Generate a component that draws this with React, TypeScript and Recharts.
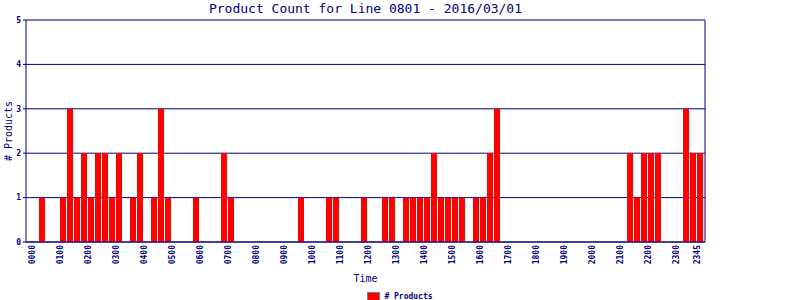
import { BarChart, Bar, XAxis, YAxis, CartesianGrid, Legend, Label } from "recharts";

const NAVY = "#000080";
const MONO = "'DejaVu Sans Mono', monospace";

/* quarter-hour slots */
const times = [
  "0000", "0015", "0030", "0045", "0100", "0115", "0130", "0145",
  "0200", "0215", "0230", "0245", "0300", "0315", "0330", "0345",
  "0400", "0415", "0430", "0445", "0500", "0515", "0530", "0545",
  "0600", "0615", "0630", "0645", "0700", "0715", "0730", "0745",
  "0800", "0815", "0830", "0845", "0900", "0915", "0930", "0945",
  "1000", "1015", "1030", "1045", "1100", "1115", "1130", "1145",
  "1200", "1215", "1230", "1245", "1300", "1315", "1330", "1345",
  "1400", "1415", "1430", "1445", "1500", "1515", "1530", "1545",
  "1600", "1615", "1630", "1645", "1700", "1715", "1730", "1745",
  "1800", "1815", "1830", "1845", "1900", "1915", "1930", "1945",
  "2000", "2015", "2030", "2045", "2100", "2115", "2130", "2145",
  "2200", "2215", "2230", "2245", "2300", "2315", "2330", "2345",
];

/* # products per slot */
const products = [
  0, 1, 0, 0, 1, 3, 1, 2,
  1, 2, 2, 1, 2, 0, 1, 2,
  0, 1, 3, 1, 0, 0, 0, 1,
  0, 0, 0, 2, 1, 0, 0, 0,
  0, 0, 0, 0, 0, 0, 1, 0,
  0, 0, 1, 1, 0, 0, 0, 1,
  0, 0, 1, 1, 0, 1, 1, 1,
  1, 2, 1, 1, 1, 1, 0, 1,
  1, 2, 3, 0, 0, 0, 0, 0,
  0, 0, 0, 0, 0, 0, 0, 0,
  0, 0, 0, 0, 0, 2, 1, 2,
  2, 2, 0, 0, 0, 3, 2, 2,
];

/* x tick labels */
const hourTicks = [
  "0000", "0100", "0200", "0300", "0400", "0500", "0600", "0700",
  "0800", "0900", "1000", "1100", "1200", "1300", "1400", "1500",
  "1600", "1700", "1800", "1900", "2000", "2100", "2200", "2300", "2345",
];

const yTicks = [0, 1, 2, 3, 4, 5];

const data = times.map((time, i) => ({ time, products: products[i] }));

const TimeTick = (props: any) => {
  const { x, y, payload } = props;
  return (
    <text
      transform={`translate(${x - 2},${y}) rotate(-90)`}
      textAnchor="end"
      dominantBaseline="central"
      fill={NAVY}
      fontSize={8}
      fontWeight="bold"
      fontFamily={MONO}
    >
      {payload.value}
    </text>
  );
};

const LegendContent = () => (
  <div
    style={{
      display: "flex",
      justifyContent: "center",
      alignItems: "center",
      height: 14,
      paddingTop: 3,
      fontFamily: MONO,
      fontSize: 8,
      fontWeight: "bold",
      color: NAVY,
    }}
  >
    <span
      style={{
        display: "inline-block",
        width: 11,
        height: 7,
        background: "#ff0000",
        border: "1px solid #808080",
        marginRight: 4,
      }}
    />
    # Products
  </div>
);

const App = () => {
  return (
    <div style={{ position: "absolute", left: 0, top: 0, width: 800, height: 300, background: "#fff" }}>
      <div
        style={{
          position: "absolute",
          left: 0,
          top: 0,
          width: 731,
          textAlign: "center",
          fontFamily: MONO,
          fontSize: 13,
          lineHeight: "17px",
          color: NAVY,
        }}
      >
        Product Count for Line 0801 - 2016/03/01
      </div>
      <BarChart
        width={800}
        height={300}
        data={data}
        margin={{ top: 20, right: 95, bottom: 0, left: 0 }}
        barSize={6}
      >
        <CartesianGrid
          stroke={NAVY}
          verticalCoordinatesGenerator={({ offset }: any) => [offset.left + offset.width]}
        />
        <XAxis
          dataKey="time"
          ticks={hourTicks}
          interval={0}
          height={44}
          tick={<TimeTick />}
          tickLine={false}
          tickSize={0}
          tickMargin={3}
          axisLine={{ stroke: NAVY }}
          padding={{ left: 5, right: 2 }}
        >
          <Label
            value="Time"
            position="insideBottom"
            offset={4}
            fill={NAVY}
            fontSize={10}
            fontFamily={MONO}
          />
        </XAxis>
        <YAxis
          width={26}
          domain={[0, 5]}
          ticks={yTicks}
          interval={0}
          tickSize={3}
          tickMargin={2}
          tickLine={{ stroke: NAVY }}
          axisLine={{ stroke: NAVY }}
          tick={{ fill: NAVY, fontSize: 8, fontWeight: "bold", fontFamily: MONO }}
        >
          <Label
            content={({ viewBox }: any) => (
              <text
                transform={`translate(8,${viewBox.y + viewBox.height / 2}) rotate(-90)`}
                textAnchor="middle"
                dominantBaseline="central"
                fill={NAVY}
                fontSize={10}
                fontFamily={MONO}
              >
                # Products
              </text>
            )}
          />
        </YAxis>
        <Legend verticalAlign="bottom" height={14} wrapperStyle={{ left: 0, width: 800 }} content={<LegendContent />} />
        <Bar dataKey="products" fill="#ff0000" isAnimationActive={false} />
      </BarChart>
    </div>
  );
};

export default App;
